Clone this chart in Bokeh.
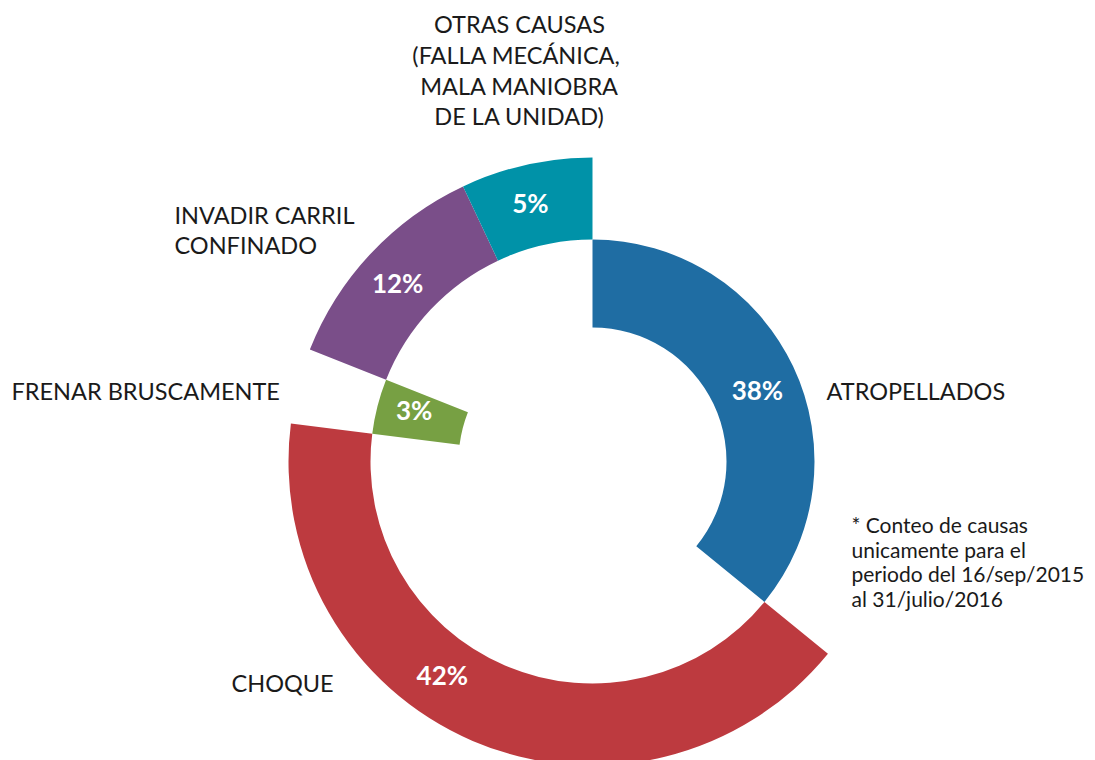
import math
from bokeh.plotting import figure
from bokeh.models import Range1d, ColumnDataSource
from bokeh.core.properties import value
from bokeh.embed import file_html
from bokeh.resources import INLINE

# ---------------- data ----------------
categories = ["ATROPELLADOS", "CHOQUE", "FRENAR BRUSCAMENTE",
              "INVADIR CARRIL CONFINADO",
              "OTRAS CAUSAS (FALLA MECÁNICA, MALA MANIOBRA DE LA UNIDAD)"]
# angular share of each wedge as drawn (percent of the full circle)
angle_share = [35.9, 41.1, 4.0, 12.0, 7.0]
# printed percentage labels
pct_values = [38, 42, 3, 12, 5]
# ring each cause sits on (0 = inner ring, 1 = outer ring)
ring = [0, 1, 0, 1, 1]
footnote = ["* Conteo de causas", "unicamente para el",
            "periodo del 16/sep/2015", "al 31/julio/2016"]

# ---------------- layout / style ----------------
W, H = 1095, 760
colors = ["#1F6DA3", "#BD3A3F", "#77A043", "#7A4E89", "#0092A8"]
CX, CY = 592, -461          # centre (y is negative pixel row)
R_IN, R_MID, R_OUT = 134, 222, 304
label_shift = [2.5, 11.6, 1.0, -1.0, -1.0]   # degrees, clockwise
label_r_shift = [1, 0, 7, 0, 1]
FONT = "Lato"
TXT = "#1a1a1a"
DY = 8   # baseline correction

p = figure(width=W, height=H, output_backend="svg", toolbar_location=None,
           x_range=Range1d(0, W), y_range=Range1d(-H, 0),
           x_axis_type=None, y_axis_type=None, min_border=0,
           background_fill_color="white", border_fill_color="white")
p.outline_line_color = None
p.grid.visible = False

# wedges
total = sum(angle_share)
starts, ends, inners, outers, mids = [], [], [], [], []
cum = 0.0
for s, rg in zip(angle_share, ring):
    th0 = cum / total * 360.0
    cum += s
    th1 = cum / total * 360.0
    starts.append(math.radians(90 - th0))
    ends.append(math.radians(90 - th1))
    inners.append(R_IN if rg == 0 else R_MID)
    outers.append(R_MID if rg == 0 else R_OUT)
    mids.append((th0 + th1) / 2)

src = ColumnDataSource(dict(x=[CX] * len(categories), y=[CY] * len(categories),
                            ri=inners, ro=outers, sa=starts, ea=ends, c=colors,
                            cat=categories))
p.annular_wedge(x="x", y="y", inner_radius="ri", outer_radius="ro",
                start_angle="sa", end_angle="ea", direction="clock",
                fill_color="c", line_color=None, source=src)

# percentage labels
lx, ly, lt = [], [], []
for i in range(len(categories)):
    th = math.radians(mids[i] + label_shift[i])
    r = (inners[i] + outers[i]) / 2 + label_r_shift[i]
    lx.append(CX + r * math.sin(th))
    ly.append(CY + r * math.cos(th) + 2)
    lt.append(f"{pct_values[i]}%")
p.text(x=lx, y=ly, text=lt, text_align="center", text_baseline="middle",
       text_font=value(FONT), text_font_style="bold", text_font_size="26px",
       text_color="white")

# category labels (pixel anchors)
cat_lines = [
    ("OTRAS CAUSAS", 519, 31.5, "center"),
    ("(FALLA  MECÁNICA,", 519, 62, "center"),
    ("MALA MANIOBRA", 519, 93, "center"),
    ("DE LA UNIDAD)", 519, 123, "center"),
    ("INVADIR CARRIL", 174, 222, "left"),
    ("CONFINADO", 174, 252, "left"),
    ("FRENAR BRUSCAMENTE", 11, 398, "left"),
    ("ATROPELLADOS", 826, 398, "left"),
    ("CHOQUE", 231, 690, "left"),
]
for t, x, y, al in cat_lines:
    p.text(x=[x], y=[-(y - DY)], text=[t], text_align=al,
           text_baseline="alphabetic",
           text_font=value(FONT), text_font_size="23.5px", text_color=TXT)

fy = [532, 556.5, 581, 606]
p.text(x=[851] * 4, y=[-(v - DY) for v in fy], text=footnote, text_align="left",
       text_baseline="alphabetic", text_font=value(FONT),
       text_font_size="21px", text_color=TXT)

open("out.html", "w").write(file_html(p, INLINE))
